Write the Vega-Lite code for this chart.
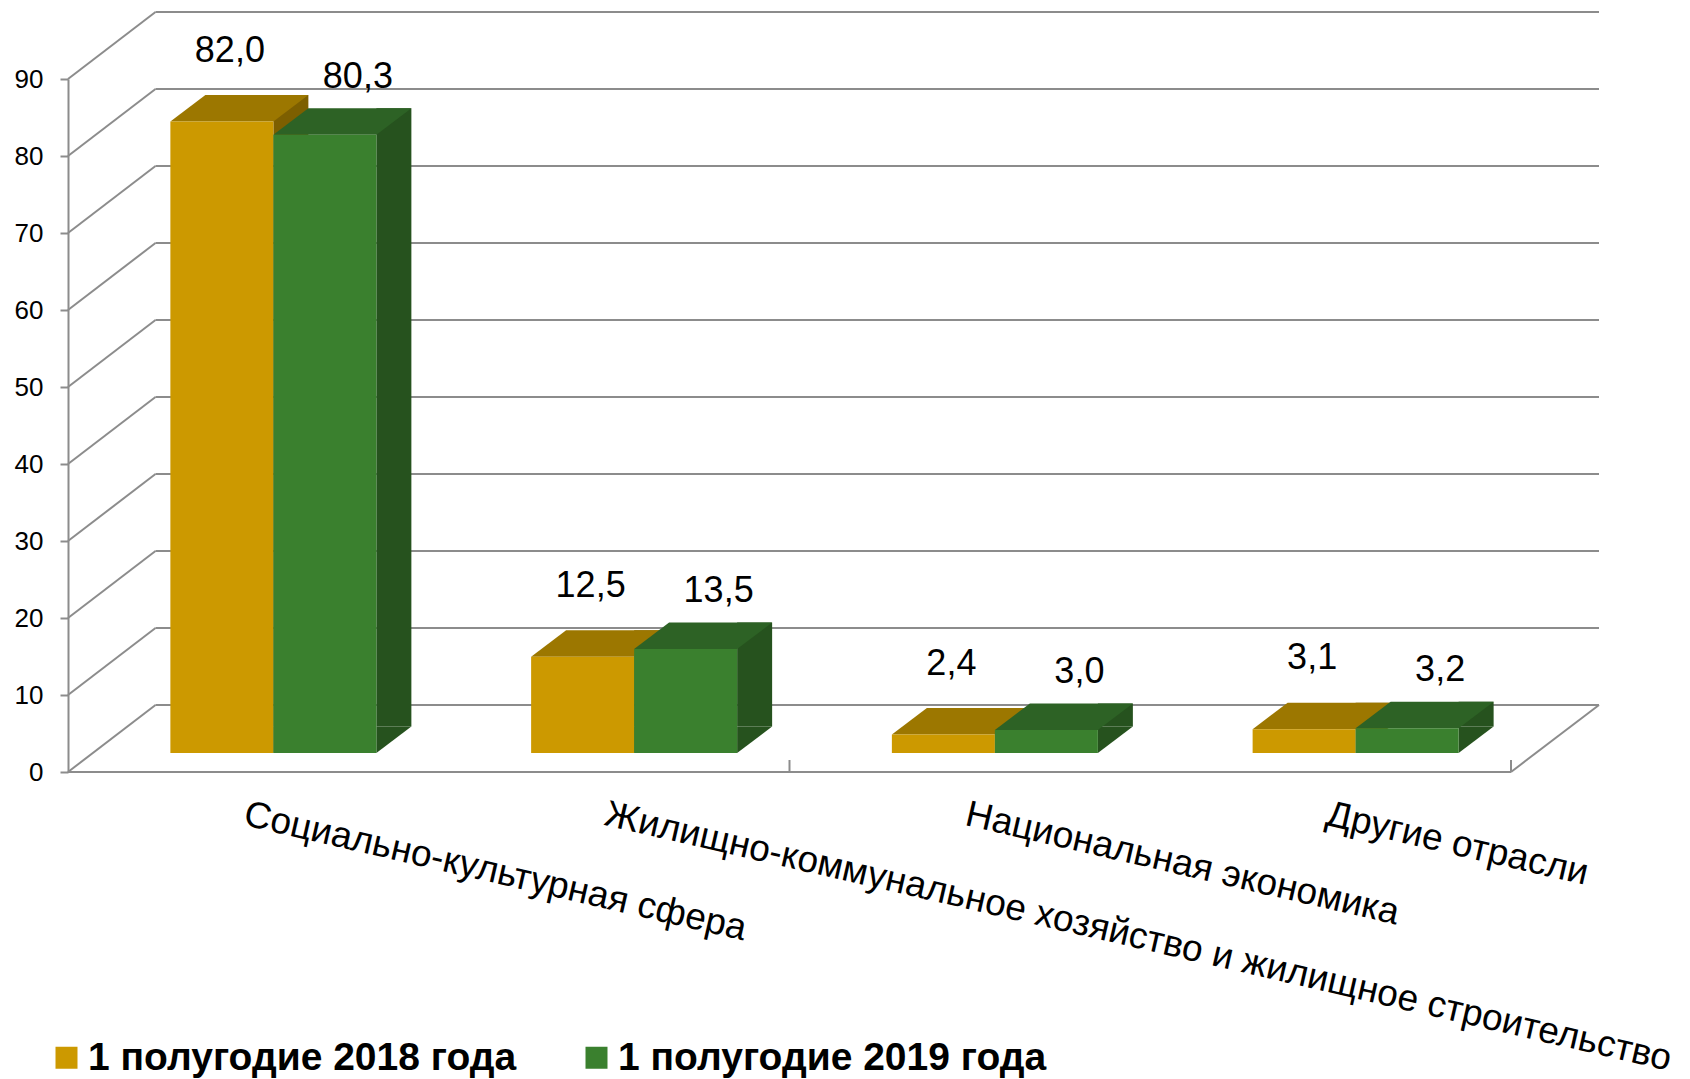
{
  "$schema": "https://vega.github.io/schema/vega-lite/v6.json",
  "width": 1443,
  "height": 693,
  "autosize": {"type": "none"},
  "padding": {"left": 93, "top": 79, "right": 154, "bottom": 307},
  "background": "white",
  "config": {
    "view": {"stroke": null},
    "font": "Liberation Sans",
    "locale": {"number": {"decimal": ",", "thousands": " ", "grouping": [3], "currency": ["", ""]}}
  },
  "datasets": {
    "bars": [
      {"category": "Социально-культурная сфера", "period": "1 полугодие 2018 года", "value": 82.0},
      {"category": "Социально-культурная сфера", "period": "1 полугодие 2019 года", "value": 80.3},
      {"category": "Жилищно-коммунальное хозяйство и жилищное строительство", "period": "1 полугодие 2018 года", "value": 12.5},
      {"category": "Жилищно-коммунальное хозяйство и жилищное строительство", "period": "1 полугодие 2019 года", "value": 13.5},
      {"category": "Национальная экономика", "period": "1 полугодие 2018 года", "value": 2.4},
      {"category": "Национальная экономика", "period": "1 полугодие 2019 года", "value": 3.0},
      {"category": "Другие отрасли", "period": "1 полугодие 2018 года", "value": 3.1},
      {"category": "Другие отрасли", "period": "1 полугодие 2019 года", "value": 3.2}
    ],
    "grid": [{"v": 0}, {"v": 10}, {"v": 20}, {"v": 30}, {"v": 40}, {"v": 50}, {"v": 60}, {"v": 70}, {"v": 80}, {"v": 90}]
  },
  "layer": [
    {
      "data": {"name": "grid"},
      "mark": {"type": "rule", "color": "#8c8c8c", "strokeWidth": 2, "xOffset": 62.5, "x2Offset": 63, "yOffset": -67},
      "encoding": {
        "x": {"datum": "Социально-культурная сфера", "bandPosition": 0, "title": null},
        "x2": {"datum": "Другие отрасли", "bandPosition": 1},
        "y": {"field": "v", "type": "quantitative", "title": null}
      }
    },
    {
      "data": {"name": "grid"},
      "mark": {"type": "rule", "color": "#8c8c8c", "strokeWidth": 2, "xOffset": -25, "x2Offset": 62.5, "y2Offset": -67},
      "encoding": {
        "x": {"datum": "Социально-культурная сфера", "bandPosition": 0, "title": null},
        "x2": {"datum": "Социально-культурная сфера", "bandPosition": 0},
        "y": {"field": "v", "type": "quantitative", "title": null},
        "y2": {"field": "v"}
      }
    },
    {
      "data": {"name": "grid"},
      "transform": [{"filter": "datum.v == 0"}],
      "mark": {"type": "rule", "color": "#8c8c8c", "strokeWidth": 2, "xOffset": -25, "x2Offset": 63, "y2Offset": -67},
      "encoding": {
        "x": {"datum": "Другие отрасли", "bandPosition": 1, "title": null},
        "x2": {"datum": "Другие отрасли", "bandPosition": 1},
        "y": {"field": "v", "type": "quantitative", "title": null},
        "y2": {"field": "v"}
      }
    },
    {
      "data": {"name": "grid"},
      "transform": [{"filter": "datum.v == 0"}],
      "mark": {"type": "rule", "color": "#8c8c8c", "strokeWidth": 2, "xOffset": -25, "x2Offset": -25},
      "encoding": {
        "x": {"datum": "Социально-культурная сфера", "bandPosition": 0, "title": null},
        "x2": {"datum": "Другие отрасли", "bandPosition": 1},
        "y": {"field": "v", "type": "quantitative", "title": null}
      }
    },
    {
      "data": {"name": "grid"},
      "transform": [{"filter": "datum.v == 0"}],
      "mark": {"type": "rule", "color": "#8c8c8c", "strokeWidth": 2, "xOffset": -25, "x2Offset": -25, "y2Offset": -12},
      "encoding": {
        "x": {"datum": "Национальная экономика", "bandPosition": 0, "title": null},
        "x2": {"datum": "Национальная экономика", "bandPosition": 0},
        "y": {"field": "v", "type": "quantitative", "title": null},
        "y2": {"field": "v"}
      }
    },
    {
      "data": {"name": "grid"},
      "transform": [{"filter": "datum.v == 0"}],
      "mark": {"type": "rule", "color": "#8c8c8c", "strokeWidth": 2, "xOffset": -25, "x2Offset": -25, "y2Offset": -12},
      "encoding": {
        "x": {"datum": "Другие отрасли", "bandPosition": 1, "title": null},
        "x2": {"datum": "Другие отрасли", "bandPosition": 1},
        "y": {"field": "v", "type": "quantitative", "title": null},
        "y2": {"field": "v"}
      }
    },
    {
      "data": {"name": "bars"},
      "transform": [{"filter": "datum.period == '1 полугодие 2018 года'"}],
      "mark": {"type": "bar", "width": 35, "color": "#7d5f00", "xOffset": 17.5, "yOffset": -45.5, "y2Offset": -45.5},
      "encoding": {
        "x": {"field": "category", "type": "nominal", "title": null},
        "y": {"field": "value", "type": "quantitative", "title": null},
        "y2": {"datum": 0}
      }
    },
    {
      "data": {"name": "bars"},
      "transform": [{"filter": "datum.period == '1 полугодие 2019 года'"}],
      "mark": {"type": "bar", "width": 35, "color": "#26521e", "xOffset": 120.5, "yOffset": -45.5, "y2Offset": -45.5},
      "encoding": {
        "x": {"field": "category", "type": "nominal", "title": null},
        "y": {"field": "value", "type": "quantitative", "title": null},
        "y2": {"datum": 0}
      }
    },
    {
      "data": {"name": "bars"},
      "transform": [{"filter": "datum.period == '1 полугодие 2018 года'"}],
      "mark": {"type": "point", "shape": "M 1 0 L 1 -0.5146 L 1.6796 -0.5146 Z", "size": 10609, "filled": true, "opacity": 1, "strokeWidth": 0, "color": "#7d5f00", "yOffset": -19},
      "encoding": {
        "x": {"field": "category", "type": "nominal", "title": null},
        "xOffset": {"field": "period"},
        "y": {"datum": 0, "type": "quantitative", "title": null}
      }
    },
    {
      "data": {"name": "bars"},
      "transform": [{"filter": "datum.period == '1 полугодие 2019 года'"}],
      "mark": {"type": "point", "shape": "M 1 0 L 1 -0.5146 L 1.6796 -0.5146 Z", "size": 10609, "filled": true, "opacity": 1, "strokeWidth": 0, "color": "#26521e", "yOffset": -19},
      "encoding": {
        "x": {"field": "category", "type": "nominal", "title": null},
        "xOffset": {"field": "period"},
        "y": {"datum": 0, "type": "quantitative", "title": null}
      }
    },
    {
      "data": {"name": "bars"},
      "transform": [{"filter": "datum.period == '1 полугодие 2018 года'"}],
      "mark": {"type": "point", "shape": "M -1 0 L 1 0 L 1.6796 -0.5146 L -0.3204 -0.5146 Z", "size": 10609, "filled": true, "opacity": 1, "strokeWidth": 0, "color": "#9c7700", "yOffset": -19},
      "encoding": {
        "x": {"field": "category", "type": "nominal", "title": null},
        "xOffset": {"field": "period"},
        "y": {"field": "value", "type": "quantitative", "title": null}
      }
    },
    {
      "data": {"name": "bars"},
      "transform": [{"filter": "datum.period == '1 полугодие 2019 года'"}],
      "mark": {"type": "point", "shape": "M -1 0 L 1 0 L 1.6796 -0.5146 L -0.3204 -0.5146 Z", "size": 10609, "filled": true, "opacity": 1, "strokeWidth": 0, "color": "#2d6225", "yOffset": -19},
      "encoding": {
        "x": {"field": "category", "type": "nominal", "title": null},
        "xOffset": {"field": "period"},
        "y": {"field": "value", "type": "quantitative", "title": null}
      }
    },
    {
      "data": {"name": "bars"},
      "mark": {"type": "bar", "yOffset": -19, "y2Offset": -19},
      "encoding": {
        "x": {
          "field": "category", "type": "nominal", "title": null, "sort": null,
          "scale": {"type": "band", "domain": ["Социально-культурная сфера", "Жилищно-коммунальное хозяйство и жилищное строительство", "Национальная экономика", "Другие отрасли"], "paddingInner": 0, "paddingOuter": 0},
          "axis": {"labelAngle": 13, "labelAlign": "left", "labelBaseline": "top", "labelFontSize": 37, "labelPadding": 36, "labelOffset": -25, "labelLimit": 0, "labelOverlap": false, "labelBound": false, "labelColor": "black", "domain": false, "ticks": true, "tickBand": "extent", "tickSize": -12, "tickOpacity": 0, "tickColor": "#ffffff", "title": null}
        },
        "xOffset": {"field": "period", "scale": {"type": "band", "domain": ["1 полугодие 2018 года", "1 полугодие 2019 года"], "paddingInner": 0, "paddingOuter": 0.7512}},
        "y": {
          "field": "value", "type": "quantitative", "title": null,
          "scale": {"domain": [0, 90], "nice": false, "zero": true},
          "axis": {"values": [0, 10, 20, 30, 40, 50, 60, 70, 80, 90], "offset": 25, "labelFontSize": 26, "labelPadding": 17, "labelColor": "black", "tickSize": 8, "tickColor": "#8c8c8c", "tickWidth": 2, "domainColor": "#8c8c8c", "domainWidth": 2, "grid": false, "title": null}
        },
        "y2": {"datum": 0},
        "color": {
          "field": "period", "type": "nominal",
          "scale": {"domain": ["1 полугодие 2018 года", "1 полугодие 2019 года"], "range": ["#cc9900", "#3a802e"]},
          "legend": {"orient": "none", "legendX": -46, "legendY": 959, "direction": "horizontal", "title": null, "symbolType": "square", "symbolSize": 484, "symbolStrokeWidth": 0, "labelFontSize": 39, "labelFontWeight": "bold", "labelLimit": 0, "labelOffset": 2, "columnPadding": 60, "padding": 0, "labelColor": "black"}
        }
      }
    },
    {
      "data": {"name": "bars"},
      "transform": [{"filter": "datum.period == '1 полугодие 2018 года'"}],
      "mark": {"type": "text", "fontSize": 36, "color": "black", "baseline": "alphabetic", "align": "center", "yOffset": -19, "dx": 8, "dy": -60},
      "encoding": {
        "x": {"field": "category", "type": "nominal", "title": null},
        "xOffset": {"field": "period"},
        "y": {"field": "value", "type": "quantitative", "title": null},
        "text": {"field": "value", "type": "quantitative", "format": ".1f"}
      }
    },
    {
      "data": {"name": "bars"},
      "transform": [{"filter": "datum.period == '1 полугодие 2019 года'"}],
      "mark": {"type": "text", "fontSize": 36, "color": "black", "baseline": "alphabetic", "align": "center", "yOffset": -19, "dx": 33, "dy": -47},
      "encoding": {
        "x": {"field": "category", "type": "nominal", "title": null},
        "xOffset": {"field": "period"},
        "y": {"field": "value", "type": "quantitative", "title": null},
        "text": {"field": "value", "type": "quantitative", "format": ".1f"}
      }
    }
  ]
}
